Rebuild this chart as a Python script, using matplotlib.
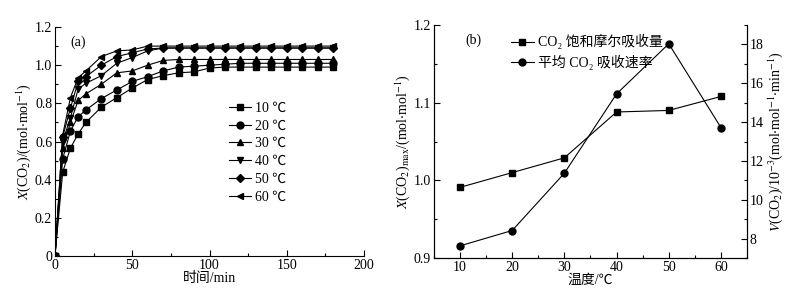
import matplotlib
matplotlib.use("Agg")
import matplotlib.pyplot as plt
from matplotlib.ticker import MultipleLocator

plt.rcParams['font.family'] = ['Liberation Serif', 'Noto Sans CJK SC']
plt.rcParams['mathtext.fontset'] = 'stix'
plt.rcParams['font.size'] = 10
plt.rcParams['xtick.direction'] = 'in'
plt.rcParams['ytick.direction'] = 'in'

# panel (a): absorption vs time
time_min = [0, 5, 10, 15, 20, 30, 40, 50, 60, 70, 80, 90, 100, 110, 120, 130, 140, 150, 160, 170, 180]
x_10 = [0, 0.44, 0.565, 0.64, 0.70, 0.78, 0.83, 0.88, 0.925, 0.945, 0.96, 0.965, 0.985, 0.99, 0.99, 0.99, 0.99, 0.99, 0.99, 0.99, 0.99]
x_20 = [0, 0.51, 0.655, 0.73, 0.765, 0.825, 0.87, 0.915, 0.94, 0.97, 0.99, 0.995, 1.0, 1.005, 1.01, 1.01, 1.01, 1.01, 1.01, 1.01, 1.01]
x_30 = [0, 0.565, 0.70, 0.815, 0.85, 0.90, 0.96, 0.97, 1.0, 1.025, 1.03, 1.03, 1.03, 1.03, 1.03, 1.03, 1.03, 1.03, 1.03, 1.03, 1.03]
x_40 = [0, 0.60, 0.725, 0.875, 0.905, 0.945, 1.01, 1.04, 1.075, 1.09, 1.09, 1.09, 1.09, 1.09, 1.09, 1.09, 1.09, 1.09, 1.09, 1.09, 1.09]
x_50 = [0, 0.625, 0.775, 0.915, 0.94, 1.0, 1.045, 1.065, 1.085, 1.09, 1.09, 1.09, 1.09, 1.09, 1.09, 1.09, 1.09, 1.09, 1.09, 1.09, 1.09]
x_60 = [0, 0.635, 0.83, 0.935, 0.97, 1.045, 1.075, 1.08, 1.10, 1.10, 1.10, 1.10, 1.10, 1.10, 1.10, 1.10, 1.10, 1.10, 1.10, 1.10, 1.10]
series_a = [x_10, x_20, x_30, x_40, x_50, x_60]
labels_a = ['10 ℃', '20 ℃', '30 ℃', '40 ℃', '50 ℃', '60 ℃']
markers_a = ['s', 'o', '^', 'v', 'D', '<']

# panel (b): saturation vs temperature
temps = [10, 20, 30, 40, 50, 60]
x_max = [0.991, 1.010, 1.029, 1.088, 1.090, 1.108]
rate = [7.63, 8.42, 11.37, 15.45, 18.03, 13.72]
labels_b = ['CO₂ 饱和摩尔吸收量', '平均 CO₂ 吸收速率']

fig = plt.figure(figsize=(8.05, 2.97), dpi=100)

# ---- (a)
ax1 = fig.add_axes([0.0683, 0.138, 0.3839, 0.771])
for vals, lab, mk in zip(series_a, labels_a, markers_a):
    ms = 4.5 if mk == 'D' else 5
    ax1.plot(time_min, vals, color='black', lw=0.8, marker=mk, ms=ms, label=lab)
ax1.set_xlim(0, 200)
ax1.set_ylim(0, 1.2)
ax1.xaxis.set_major_locator(MultipleLocator(50))
ax1.xaxis.set_minor_locator(MultipleLocator(25))
ax1.yaxis.set_ticks([0, 0.2, 0.4, 0.6, 0.8, 1.0, 1.2])
ax1.set_yticklabels(['0', '0.2', '0.4', '0.6', '0.8', '1.0', '1.2'])
ax1.yaxis.set_minor_locator(MultipleLocator(0.1))
ax1.spines['top'].set_visible(False)
ax1.spines['right'].set_visible(False)
ax1.tick_params(which='major', length=4, width=0.8, pad=2)
ax1.tick_params(which='minor', length=2.5, width=0.8)
ax1.set_xlabel('时间/min', labelpad=0)
ax1.set_ylabel(r'$X$(CO$_2$)/(mol$\cdot$mol$^{-1}$)', labelpad=1)
ax1.text(0.05, 0.965, '(a)', transform=ax1.transAxes, va='top', ha='left')
ax1.legend(loc='upper left', bbox_to_anchor=(0.54, 0.705), frameon=False,
           handlelength=1.6, handletextpad=0.3, labelspacing=0.35, borderpad=0)

# ---- (b)
ax2 = fig.add_axes([0.539, 0.131, 0.389, 0.785])
ax3 = ax2.twinx()
l1, = ax2.plot(temps, x_max, color='black', lw=0.8, marker='s', ms=5, label=labels_b[0])
l2, = ax3.plot(temps, rate, color='black', lw=0.8, marker='o', ms=5, label=labels_b[1])
ax2.set_xlim(5, 65)
ax2.set_ylim(0.9, 1.2)
ax3.set_ylim(7, 19)
ax2.set_xticks(temps)
ax2.xaxis.set_minor_locator(MultipleLocator(5))
ax2.yaxis.set_major_locator(MultipleLocator(0.1))
ax2.yaxis.set_minor_locator(MultipleLocator(0.05))
ax3.yaxis.set_major_locator(MultipleLocator(2))
ax3.yaxis.set_minor_locator(MultipleLocator(1))
for a in (ax2, ax3):
    a.spines['top'].set_visible(False)
    a.tick_params(which='major', length=4, width=0.8, pad=2)
    a.tick_params(which='minor', length=2.5, width=0.8)
ax2.set_xlabel('温度/℃', labelpad=0)
ax2.set_ylabel(r'$X$(CO$_2$)$_{\rm max}$/(mol$\cdot$mol$^{-1}$)', labelpad=1)
ax3.set_ylabel(r'$V$(CO$_2$)/10$^{-3}$(mol$\cdot$mol$^{-1}$$\cdot$min$^{-1}$)', labelpad=2)
ax2.text(0.10, 0.965, '(b)', transform=ax2.transAxes, va='top', ha='left')
ax2.legend(handles=[l1, l2], loc='upper left', bbox_to_anchor=(0.225, 0.99), frameon=False,
           handlelength=1.6, handletextpad=0.3, labelspacing=0.4, borderpad=0)

fig.savefig('out.png', dpi=100)
